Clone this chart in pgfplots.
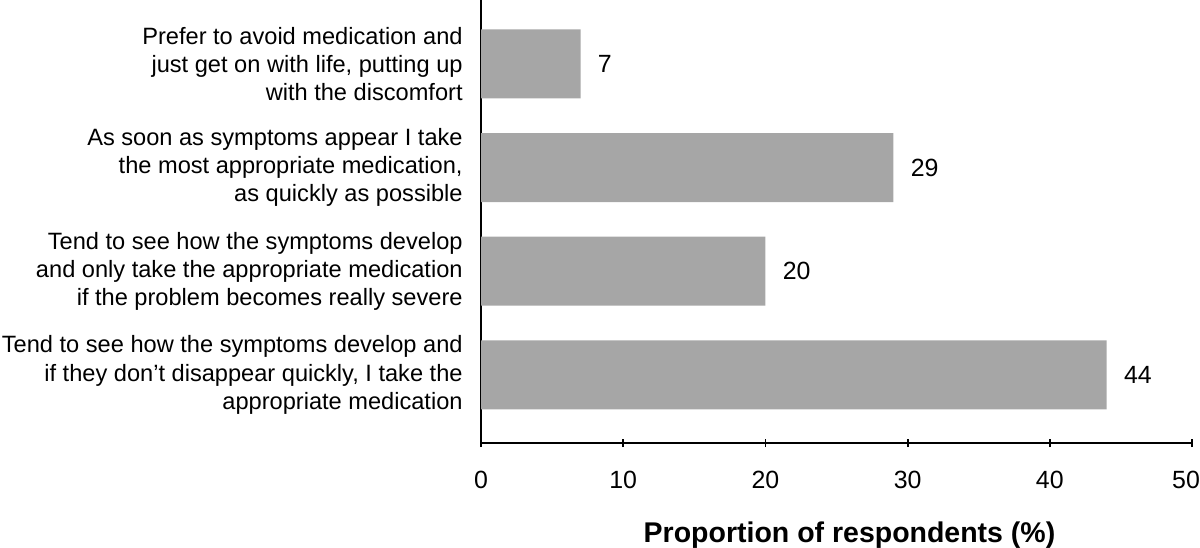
\documentclass[border=0pt]{standalone}
\usepackage{fontspec}
\setmainfont{Liberation Sans}
\usepackage{pgfplots}
\pgfplotsset{compat=1.18}
\definecolor{bargray}{HTML}{A6A6A6}
\begin{document}
\begin{tikzpicture}[x=1bp,y=1bp]
\useasboundingbox (0,0) rectangle (600,273.5);
\begin{axis}[
  at={(240.5bp,52bp)}, anchor=south west,
  scale only axis, width=355.5bp, height=221.5bp,
  xbar, bar width=34.5bp,
  xmin=0, xmax=50, ymin=-0.656, ymax=3.615,
  axis x line*=bottom, axis y line*=left,
  axis line style={line width=0.9pt, black, -},
  xtick={0,10,20,30,40,50},
  xticklabels={0,10,20,30,40,{50\hspace*{6bp}}},
  ytick={0,1,2,3},
  yticklabels={{Tend to see how the symptoms develop and\\if they don’t disappear quickly, I take the\\appropriate medication},
               {Tend to see how the symptoms develop\\and only take the appropriate medication\\if the problem becomes really severe},
               {As soon as symptoms appear I take\\the most appropriate medication,\\as quickly as possible},
               {Prefer to avoid medication and\\just get on with life, putting up\\with the discomfort}},
  yticklabel style={align=right, inner sep=0pt, xshift=-7bp, font=\fontsize{11.85}{14.15}\selectfont},
  ytick style={draw=none},
  major tick length=4bp,
  xtick style={line width=0.9pt, black},
  tick align=center,
  xticklabel style={inner sep=0pt, yshift=-12bp, font=\fontsize{12.5}{14}\selectfont},
  /pgf/number format/assume math mode=true,
  xlabel={Proportion of respondents (\%)},
  xlabel style={at={(axis description cs:0.5,0)}, anchor=north, inner sep=0pt, yshift=-39bp, xshift=6.5bp, font=\bfseries\fontsize{14.3}{16}\selectfont},
  nodes near coords,
  nodes near coords style={anchor=west, inner sep=0pt, xshift=8.5bp, font=\fontsize{12.5}{14}\selectfont, black},
  point meta=explicit symbolic,
]
\addplot[fill=bargray, draw=none] coordinates {
  (44,0) [44]
  (20,1) [20]
  (29,2) [29]
  (7,3) [7]
};
\end{axis}
\end{tikzpicture}
\end{document}
